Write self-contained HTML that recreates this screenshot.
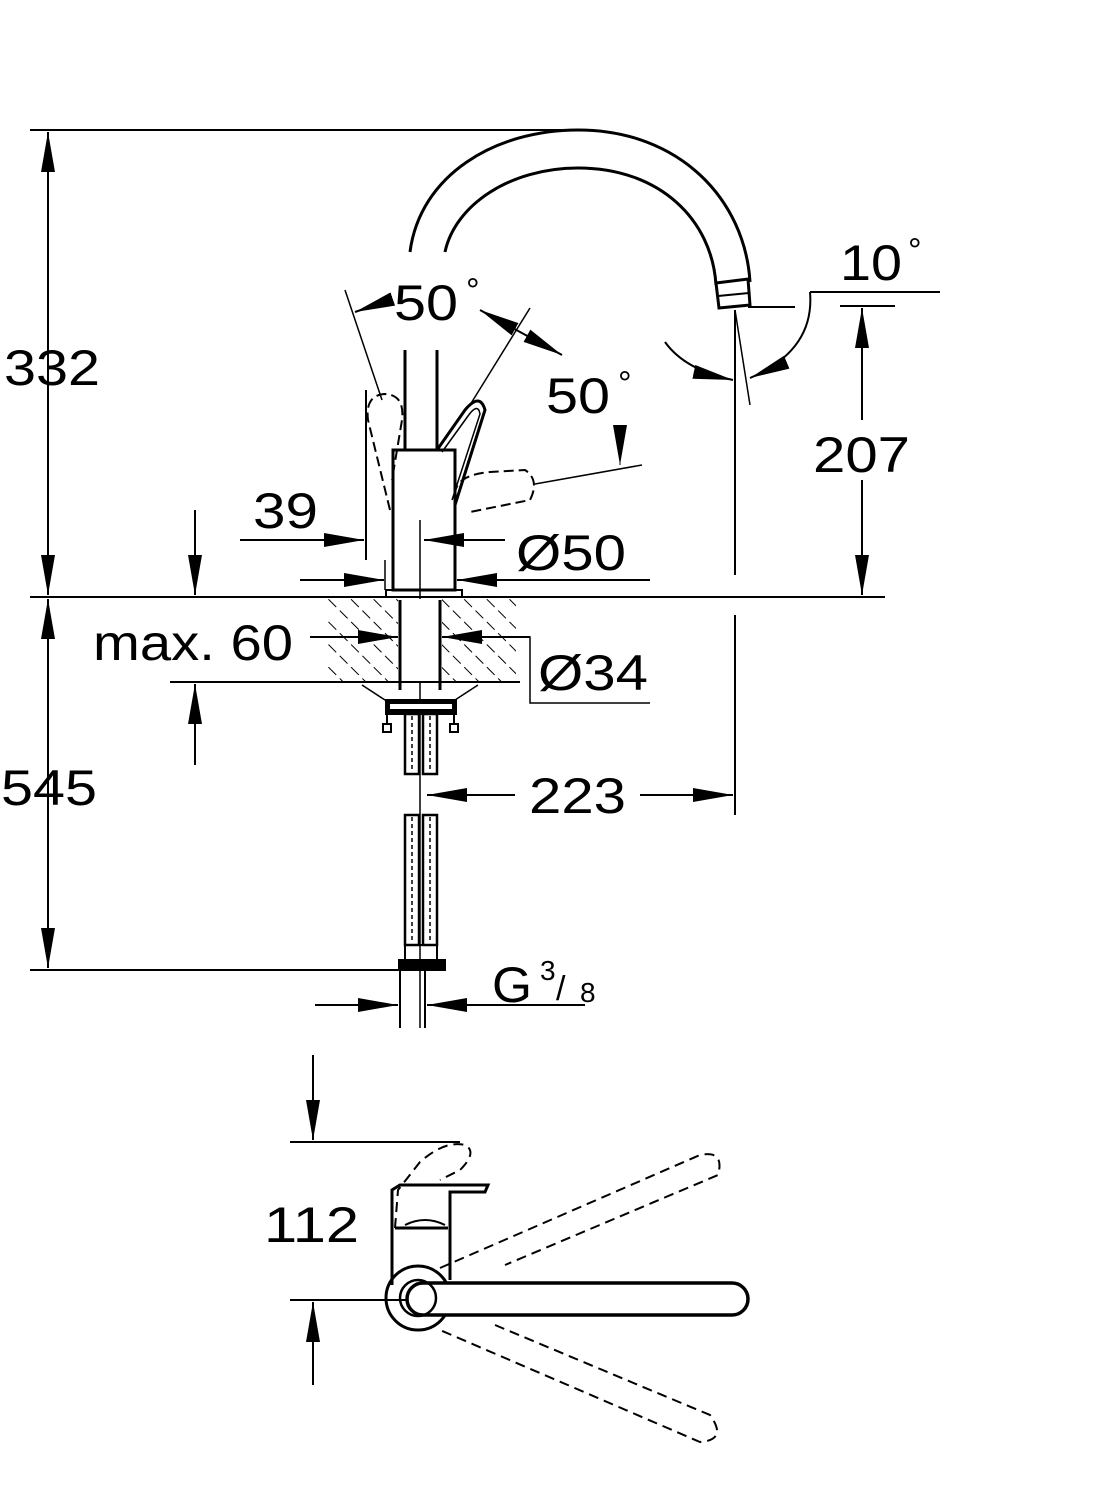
<!DOCTYPE html>
<html><head><style>
html,body{margin:0;padding:0;background:#fff;}
svg{display:block}
text{font-family:"Liberation Sans",sans-serif;fill:#000}
</style></head><body>
<svg width="1114" height="1500" viewBox="0 0 1114 1500" xmlns="http://www.w3.org/2000/svg">
<defs>
<marker id="b" viewBox="0 0 40 14" refX="40" refY="7" markerWidth="40" markerHeight="14" markerUnits="userSpaceOnUse" orient="auto-start-reverse"><path d="M0,0 L40,7 L0,14 z" fill="#000"/></marker>
<pattern id="h" width="16" height="16" patternUnits="userSpaceOnUse" patternTransform="rotate(-45)"><line x1="0" y1="0" x2="0" y2="16" stroke="#000" stroke-width="2" stroke-dasharray="11 5"/></pattern>
</defs>
<g fill="none" stroke="#000" stroke-width="2">
<line x1="30" y1="130" x2="578" y2="130"/>
<line x1="48" y1="132" x2="48" y2="595" marker-start="url(#b)" marker-end="url(#b)"/>
<line x1="30" y1="597" x2="885" y2="597"/>
<line x1="48" y1="599" x2="48" y2="968" marker-start="url(#b)" marker-end="url(#b)"/>
<line x1="30" y1="970" x2="400" y2="970"/>
<!-- spout -->
<path d="M410,252 C420,175 495,130 578,130 C680,130 745,200 750,282" stroke-width="3"/>
<path d="M445,252 C455,205 510,168 578,168 C660,168 712,220 716,285" stroke-width="3"/>
<path d="M716,283 L748,279 L750,305 L719,308 Z" stroke-width="3"/>
<line x1="718" y1="296" x2="749" y2="293"/>
<line x1="748" y1="307" x2="795" y2="307"/>
<line x1="405" y1="350" x2="405" y2="450" stroke-width="3"/>
<line x1="437" y1="350" x2="437" y2="450" stroke-width="3"/>
<rect x="393" y="450" width="62" height="140" stroke-width="3"/>
<rect x="386" y="590" width="76" height="7" stroke-width="2"/>
<line x1="420" y1="520" x2="420" y2="1028" stroke-width="1.5"/>
<path d="M437,450 L465,410 Q480,392 485,410 L455,505" stroke-width="3"/>
<path d="M442,452 L468,416 Q478,402 480,414 L452,500" stroke-width="1.5"/>
<g stroke-dasharray="10 5" stroke-width="2">
<path d="M390,510 L368,420 Q365,395 385,394 Q405,395 402,420 L392,480"/>
<path d="M455,495 Q455,475 490,472 L525,470 Q540,480 530,500 L470,512"/>
</g>
<line x1="345" y1="290" x2="382" y2="400" stroke-width="1.5"/>
<line x1="470" y1="405" x2="530" y2="308" stroke-width="1.5"/>
<line x1="535" y1="484" x2="642" y2="465" stroke-width="1.5"/>
<line x1="390" y1="300" x2="355" y2="312" marker-end="url(#b)"/>
<line x1="480" y1="310" x2="562" y2="355" marker-start="url(#b)" marker-end="url(#b)"/>
<line x1="620" y1="425" x2="620" y2="465" marker-end="url(#b)" stroke-width="1"/>
<line x1="366" y1="390" x2="366" y2="560"/>
<line x1="240" y1="540" x2="364" y2="540" marker-end="url(#b)"/>
<line x1="505" y1="540" x2="424" y2="540" marker-end="url(#b)"/>
<line x1="385" y1="560" x2="385" y2="590" stroke-width="1.5"/>
<line x1="455" y1="570" x2="455" y2="590" stroke-width="1.5"/>
<line x1="300" y1="580" x2="384" y2="580" marker-end="url(#b)"/>
<line x1="650" y1="580" x2="457" y2="580" marker-end="url(#b)"/>
<rect x="326" y="599" width="190" height="82" fill="url(#h)" stroke="none"/>
<rect x="398" y="599" width="44" height="83" fill="#fff" stroke="none"/>
<line x1="170" y1="682" x2="520" y2="682"/>
<line x1="400" y1="600" x2="400" y2="690" stroke-width="3"/>
<line x1="440" y1="600" x2="440" y2="690" stroke-width="3"/>
<line x1="310" y1="637" x2="398" y2="637" marker-end="url(#b)"/>
<path d="M530,637 L442,637" marker-end="url(#b)"/>
<path d="M515,637 L530,637 L530,703 L650,703" stroke-width="1.5"/>
<line x1="195" y1="510" x2="195" y2="595" marker-end="url(#b)"/>
<line x1="195" y1="765" x2="195" y2="684" marker-end="url(#b)"/>
<path d="M362,685 L385,700 L455,700 L478,685" stroke-width="1.5"/>
<rect x="386" y="700" width="70" height="14" fill="#000"/>
<rect x="390" y="704" width="62" height="5" fill="#fff" stroke="none"/>
<rect x="383" y="724" width="8" height="8"/><rect x="450" y="724" width="8" height="8"/>
<line x1="387" y1="714" x2="387" y2="724"/><line x1="454" y1="714" x2="454" y2="724"/>
<g stroke-width="2.5">
<rect x="405" y="714" width="14" height="60"/><rect x="423" y="714" width="14" height="60"/>
<rect x="405" y="815" width="14" height="130"/><rect x="423" y="815" width="14" height="130"/>
</g>
<g stroke-width="1.5" stroke-dasharray="4 3">
<line x1="412" y1="716" x2="412" y2="772"/><line x1="430" y1="716" x2="430" y2="772"/>
<line x1="412" y1="817" x2="412" y2="943"/><line x1="430" y1="817" x2="430" y2="943"/>
</g>
<rect x="405" y="945" width="32" height="15" stroke-width="2"/>
<rect x="399" y="960" width="46" height="10" fill="#000"/>
<line x1="400" y1="970" x2="400" y2="1028"/>
<line x1="425" y1="970" x2="425" y2="1028"/>
<line x1="315" y1="1005" x2="398" y2="1005" marker-end="url(#b)"/>
<line x1="585" y1="1005" x2="427" y2="1005" marker-end="url(#b)"/>
<line x1="735" y1="310" x2="735" y2="575"/>
<line x1="735" y1="615" x2="735" y2="815"/>
<line x1="735" y1="310" x2="750" y2="405" stroke-width="1.5"/>
<line x1="515" y1="795" x2="427" y2="795" marker-end="url(#b)"/>
<line x1="640" y1="795" x2="733" y2="795" marker-end="url(#b)"/>
<path d="M665,342 Q685,370 733,380" marker-end="url(#b)"/>
<path d="M810,292 Q815,350 750,378" marker-end="url(#b)"/>
<line x1="810" y1="292" x2="940" y2="292"/>
<line x1="840" y1="306" x2="895" y2="306"/>
<line x1="862" y1="420" x2="862" y2="308" marker-end="url(#b)"/>
<line x1="862" y1="480" x2="862" y2="595" marker-end="url(#b)"/>
<!-- bottom view -->
<line x1="313" y1="1055" x2="313" y2="1140" marker-end="url(#b)"/>
<line x1="290" y1="1142" x2="460" y2="1142"/>
<line x1="290" y1="1300" x2="420" y2="1300"/>
<line x1="313" y1="1385" x2="313" y2="1302" marker-end="url(#b)"/>
<path d="M392,1285 L392,1190 L400,1185 L488,1185 L485,1192 L450,1192 L450,1280" stroke-width="3"/>
<line x1="395" y1="1228" x2="448" y2="1228" stroke-width="3"/>
<path d="M405,1225 Q425,1215 445,1225" stroke-width="2"/>
<g stroke-dasharray="10 6" stroke-width="2">
<path d="M395,1228 L398,1190 L420,1162 Q445,1140 465,1145 Q478,1152 460,1170 L440,1180"/>
<path d="M440,1268 L700,1155 Q725,1150 718,1175 L505,1265"/>
<path d="M495,1325 L710,1415 Q728,1440 700,1442 L440,1330"/>
</g>
<circle cx="418" cy="1298" r="32" stroke-width="3"/>
<path d="M423,1283 L732,1283 A16,16 0 0 1 732,1315 L423,1315 A16,16 0 0 1 423,1283 Z" stroke-width="3.5" fill="#fff"/>
<circle cx="418" cy="1298" r="18" stroke-width="2.5" fill="none"/>
</g>
<g font-size="50" lengthAdjust="spacingAndGlyphs">
<text x="4" y="385" textLength="96" lengthAdjust="spacingAndGlyphs">332</text>
<text x="1" y="805" textLength="96" lengthAdjust="spacingAndGlyphs">545</text>
<text x="394" y="320" textLength="64" lengthAdjust="spacingAndGlyphs">50</text><text x="466" y="302" font-size="34">°</text>
<text x="546" y="413" textLength="64" lengthAdjust="spacingAndGlyphs">50</text><text x="618" y="395" font-size="34">°</text>
<text x="840" y="280" textLength="62" lengthAdjust="spacingAndGlyphs">10</text><text x="908" y="262" font-size="34">°</text>
<text x="813" y="472" textLength="97" lengthAdjust="spacingAndGlyphs">207</text>
<text x="253" y="528" textLength="65" lengthAdjust="spacingAndGlyphs">39</text>
<text x="516" y="570" textLength="110" lengthAdjust="spacingAndGlyphs">Ø50</text>
<text x="93" y="660" textLength="200" lengthAdjust="spacingAndGlyphs">max. 60</text>
<text x="538" y="690" textLength="110" lengthAdjust="spacingAndGlyphs">Ø34</text>
<text x="529" y="813" textLength="97" lengthAdjust="spacingAndGlyphs">223</text>
<text x="492" y="1002" textLength="40" lengthAdjust="spacingAndGlyphs">G</text>
<text x="540" y="980" font-size="28">3</text><text x="556" y="1000" font-size="34">/</text><text x="580" y="1002" font-size="28">8</text>
<text x="264" y="1242" textLength="95" lengthAdjust="spacingAndGlyphs">112</text>
</g>
</svg>
</body></html>
